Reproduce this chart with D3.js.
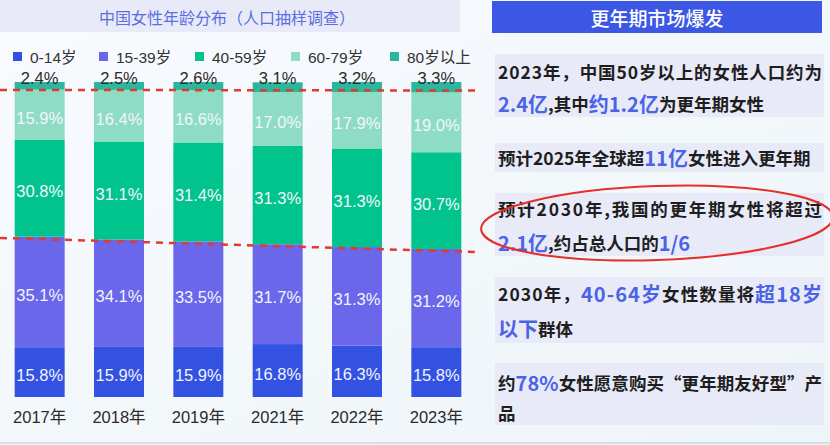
<!DOCTYPE html>
<html><head><meta charset="utf-8">
<script src="https://cdn.jsdelivr.net/npm/d3@7"></script>
<style>
html,body{margin:0;padding:0;background:#f5f8fc;}
svg{display:block;}
</style></head>
<body><div id="chart"></div>
<script>
// ---------- data ----------
const years = ["2017年","2018年","2019年","2021年","2022年","2023年"];
const ageGroups = ["0-14岁","15-39岁","40-59岁","60-79岁","80岁以上"];
const age0_14   = [15.8,15.9,15.9,16.8,16.3,15.8];
const age15_39  = [35.1,34.1,33.5,31.7,31.3,31.2];
const age40_59  = [30.8,31.1,31.4,31.3,31.3,30.7];
const age60_79  = [15.9,16.4,16.6,17.0,17.9,19.0];
const age80plus = [2.4,2.5,2.6,3.1,3.2,3.3];
const chartTitle = "中国女性年龄分布（人口抽样调查）";
// annotation dashed lines (percent levels at left edge / right edge)
const upperDash = [97.5, 97.3];
const lowerDash = [50.5, 46.0];

const panelTitle = "更年期市场爆发";
// each box: list of lines; each line: list of [text, highlighted]
const boxes = [
  [[["2023年，中国50岁以上的女性人口约为",0]],
   [["2.4亿",1],[",其中",0],["约1.2亿",1],["为更年期女性",0]]],
  [[["预计2025年全球超",0],["11亿",1],["女性进入更年期",0]]],
  [[["预计2030年,我国的更年期女性将超过",0]],
   [["2.1亿",1],[",约占总人口的",0],["1/6",1]]],
  [[["2030年，",0],["40-64岁",1],["女性数量将",0],["超18岁",1]],
   [["以下",1],["群体",0]]],
  [[["约",0],["78%",1],["女性愿意购买“更年期友好型”产",0]],
   [["品",0]]]
];

const series = [age0_14, age15_39, age40_59, age60_79, age80plus];
const colors = ["#3352e2","#6a67ea","#00c48c","#8edcc4","#2cb69e"];

const W = 830, H = 445;
const svg = d3.select("#chart").append("svg").attr("width", W).attr("height", H);

const defs = svg.append("defs");
const bg = defs.append("linearGradient").attr("id","bg").attr("x1","0").attr("y1","0").attr("x2","1").attr("y2","1");
bg.append("stop").attr("offset","0").attr("stop-color","#f8fafe");
bg.append("stop").attr("offset","1").attr("stop-color","#eef5f8");
svg.append("rect").attr("width",W).attr("height",H).attr("fill","url(#bg)");

const FONT = "'Liberation Sans', Arial, 'Noto Sans CJK SC', sans-serif";
const CJK = "'Noto Sans CJK SC', sans-serif";

// ---------- left chart ----------
svg.append("rect").attr("x",0).attr("y",0).attr("width",460).attr("height",32).attr("fill","#e8eaf8");
svg.append("text").attr("x",227).attr("y",17).attr("text-anchor","middle").attr("dominant-baseline","central")
  .attr("font-family",CJK).attr("font-size",16).attr("fill","#5a6ee2").text(chartTitle);

// legend
const legendX = [13, 99, 195, 291, 390];
const lg = svg.append("g");
ageGroups.forEach((g,i)=>{
  lg.append("rect").attr("x",legendX[i]).attr("y",52).attr("width",9).attr("height",9).attr("fill",colors[i]);
  lg.append("text").attr("x",legendX[i]+17).attr("y",57).attr("dominant-baseline","central")
    .attr("font-family",FONT).attr("font-size",15.5).attr("fill","#333").text(g);
});

const x = d3.scaleBand().domain(years).range([0,476]).paddingInner(0.37).paddingOuter(0.185);
const y = d3.scaleLinear().domain([0,100]).range([397,82]);

const rows = years.map((yr,j)=>{ const o={year:yr}; ageGroups.forEach((g,i)=>o[g]=series[i][j]); return o; });
const stacked = d3.stack().keys(ageGroups)(rows);

const bars = svg.append("g");
stacked.forEach((layer,i)=>{
  bars.append("g").attr("fill",colors[i]).selectAll("rect").data(layer).join("rect")
    .attr("x",d=>x(d.data.year)).attr("width",x.bandwidth())
    .attr("y",d=>y(d[1])).attr("height",d=>y(d[0])-y(d[1]));
});

// labels
stacked.forEach((layer,i)=>{
  const top = i===4;
  svg.append("g").selectAll("text").data(layer).join("text")
    .attr("x",d=>x(d.data.year)+x.bandwidth()/2)
    .attr("y",d=> top ? y(d[1])-4 : (y(d[0])+y(d[1]))/2+3)
    .attr("text-anchor","middle").attr("dominant-baseline","central")
    .attr("font-family",FONT).attr("font-size",16.5)
    .attr("fill", top ? "#2b2b2b" : "#f2f5ff")
    .text(d=>(d[1]-d[0]).toFixed(1)+"%");
});

// x axis
const xAxis = svg.append("g").attr("transform","translate(0,397)").call(d3.axisBottom(x).tickSize(0).tickPadding(14));
xAxis.select(".domain").remove();
xAxis.selectAll("text").attr("font-family",FONT).attr("font-size",16.5).attr("fill","#2b2b2b");

// dashed annotation lines
const lineGen = d3.line().x(d=>d[0]).y(d=>y(d[1]));
[upperDash, lowerDash].forEach(l=>{
  svg.append("path").attr("d",lineGen([[0,l[0]],[480,l[1]]]))
    .attr("stroke","#e23a2e").attr("stroke-width",2.5).attr("stroke-dasharray","7,6").attr("fill","none");
});

// ---------- right panel ----------
svg.append("rect").attr("x",492).attr("y",1).attr("width",330).attr("height",32).attr("fill","#3c57e4");
svg.append("text").attr("x",657).attr("y",17).attr("text-anchor","middle").attr("dominant-baseline","central")
  .attr("font-family",CJK).attr("font-weight",500).attr("font-size",19).attr("fill","#fff").text(panelTitle);

const boxY = [[54,117],[143,172],[193,256],[277,343],[363,425]];
const lineY = [[71,103],[157],[208,242],[293,328],[382,412]];
boxes.forEach((lines,b)=>{
  svg.append("rect").attr("x",495).attr("y",boxY[b][0]).attr("width",329).attr("height",boxY[b][1]-boxY[b][0]).attr("fill","#e8eaf8");
  lines.forEach((segs,l)=>{
    const t = svg.append("text").attr("x",498).attr("y",lineY[b][l]).attr("dominant-baseline","central")
      .attr("font-family",CJK).attr("font-weight",700).attr("font-size",17.5).attr("fill","#1e1e1e");
    segs.forEach(s=>{
      t.append("tspan").text(s[0]).attr("fill", s[1] ? "#4b63e6" : "#1e1e1e").attr("font-size", s[1] ? 20 : 17.5);
    });
    if (lines.length>1 && l===0) t.attr("textLength",324).attr("lengthAdjust","spacing");
  });
});

// red ellipse
svg.append("ellipse").attr("cx",657).attr("cy",223).attr("rx",176).attr("ry",37)
  .attr("transform","rotate(-2,657,223)")
  .attr("fill","none").attr("stroke","#e4302b").attr("stroke-width",2);

// bottom separator
svg.append("line").attr("x1",0).attr("x2",W).attr("y1",443).attr("y2",443).attr("stroke","#cdd6df").attr("stroke-width",1.5);
</script></body></html>
